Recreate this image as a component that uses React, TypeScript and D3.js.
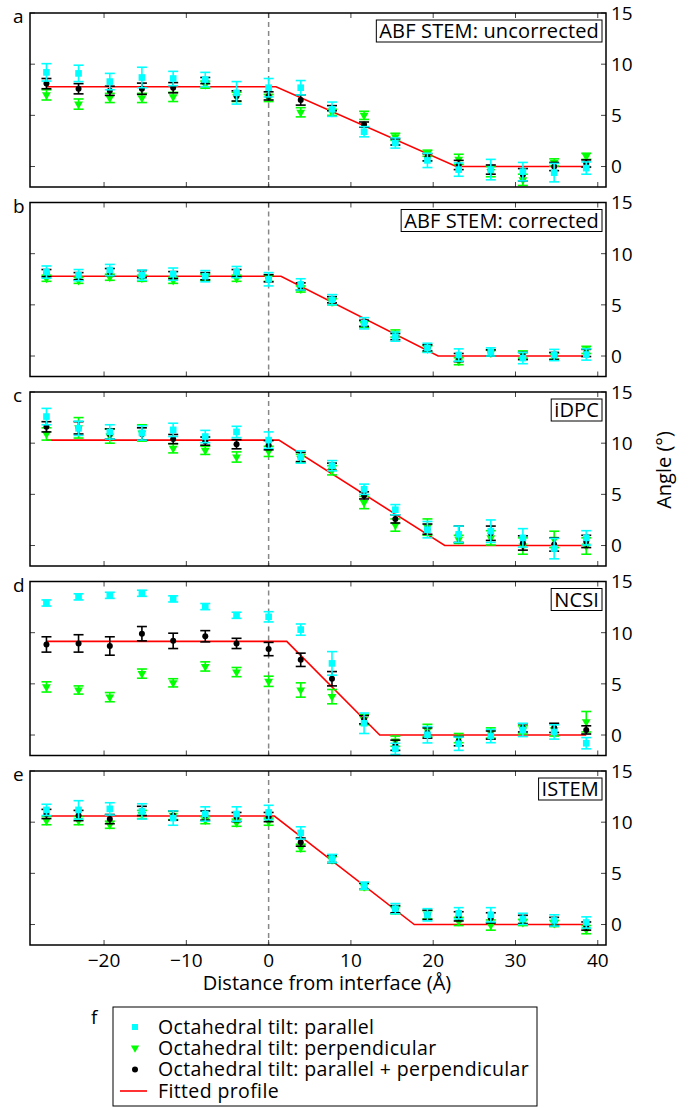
import React from "react";
import * as d3 from "d3";

const xPos = [-27, -23.1, -19.3, -15.4, -11.6, -7.7, -3.9, 0, 3.9, 7.7, 11.6, 15.4, 19.3, 23.1, 27, 30.9, 34.7, 38.6];
const xTicks = [-20, -10, 0, 10, 20, 30, 40];
const yTicks = [0, 5, 10, 15];

const panelLetters = ["a", "b", "c", "d", "e"];
const panelTitles = ["ABF STEM: uncorrected", "ABF STEM: corrected", "iDPC", "NCSI", "ISTEM"];

// panel a
const aPar = [9.2, 9.1, 8.3, 8.7, 8.6, 8.5, 7.2, 7.7, 7.7, 5.6, 3.4, 2.3, 0.6, -0.3, -0.3, -0.5, -0.6, -0.15];
const aParErr = [0.85, 0.8, 0.8, 1.0, 0.7, 0.7, 1.1, 0.9, 0.7, 0.7, 0.5, 0.5, 0.7, 0.65, 1.0, 0.9, 0.9, 0.6];
const aPerp = [7.0, 6.1, 6.7, 6.7, 6.8, 8.0, 6.8, 6.7, 5.3, 5.3, 5.0, 2.9, 1.3, 0.7, -0.5, -1.3, 0.4, 1.0];
const aPerpErr = [0.5, 0.5, 0.45, 0.45, 0.45, 0.35, 0.45, 0.35, 0.45, 0.3, 0.4, 0.35, 0.3, 0.5, 0.5, 0.55, 0.35, 0.3];
const aBoth = [8.1, 7.6, 7.4, 7.6, 7.7, 8.4, 6.9, 6.9, 6.5, 5.7, 4.1, 2.4, 0.9, 0.15, -0.3, -0.8, 0, 0.3];
const aBothErr = [0.5, 0.5, 0.45, 0.55, 0.5, 0.3, 0.5, 0.4, 0.5, 0.25, 0.25, 0.3, 0.35, 0.45, 0.45, 0.6, 0.4, 0.35];
const aFitX = [-27, 0.9, 22.8, 38.6];
const aFitY = [7.8, 7.8, 0, 0];

// panel b
const bPar = [8.2, 7.9, 8.4, 7.9, 8.0, 7.8, 8.2, 7.5, 7.0, 5.5, 3.2, 1.9, 0.8, 0.1, 0.4, -0.2, 0.1, 0.15];
const bParErr = [0.6, 0.55, 0.55, 0.5, 0.6, 0.55, 0.55, 0.65, 0.55, 0.5, 0.55, 0.45, 0.45, 0.6, 0.4, 0.55, 0.55, 0.55];
const bPerp = [7.6, 7.4, 7.7, 7.6, 7.4, 7.7, 7.6, 7.6, 6.55, 5.3, 3.1, 2.2, 0.7, -0.5, 0.3, 0.15, 0, 0.6];
const bPerpErr = [0.3, 0.3, 0.3, 0.3, 0.3, 0.3, 0.3, 0.3, 0.3, 0.3, 0.3, 0.35, 0.3, 0.35, 0.3, 0.35, 0.3, 0.35];
const bBoth = [8.1, 7.8, 8.2, 8.0, 7.9, 7.8, 8.1, 7.6, 6.8, 5.5, 3.2, 1.9, 0.8, -0.15, 0.3, 0, 0, 0.3];
const bBothErr = [0.35, 0.35, 0.35, 0.35, 0.35, 0.35, 0.35, 0.35, 0.35, 0.3, 0.3, 0.3, 0.3, 0.4, 0.3, 0.35, 0.35, 0.35];
const bFitX = [-27, 1.5, 20.6, 38.6];
const bFitY = [7.8, 7.8, 0, 0];

// panel c
const cPar = [12.6, 11.45, 11.1, 11.0, 11.3, 10.65, 11.1, 10.3, 8.65, 7.8, 5.5, 3.5, 1.55, 1.1, 1.4, 0.75, -0.3, 0.75];
const cParErr = [0.8, 0.7, 0.7, 0.7, 0.65, 0.6, 0.55, 0.8, 0.6, 0.5, 0.5, 0.5, 0.8, 0.8, 1.1, 0.9, 1.0, 0.7];
const cPerp = [10.9, 11.5, 10.7, 11.0, 9.5, 9.3, 8.65, 9.2, 8.5, 7.35, 4.2, 2.0, 1.8, 0.6, 0.75, -0.05, 0.6, -0.05];
const cPerpErr = [0.6, 1.0, 0.7, 0.8, 0.45, 0.4, 0.5, 0.5, 0.4, 0.45, 0.6, 0.6, 0.8, 0.4, 0.7, 0.8, 0.8, 0.8];
const cBoth = [11.6, 11.5, 10.9, 10.9, 10.4, 10.2, 9.9, 9.8, 8.65, 7.7, 4.9, 2.6, 1.6, 1.1, 1.2, 0.25, 0.1, 0.4];
const cBothErr = [0.5, 0.6, 0.5, 0.6, 0.45, 0.4, 0.45, 0.45, 0.45, 0.35, 0.35, 0.4, 0.5, 0.8, 0.7, 0.7, 0.65, 0.6];
const cFitX = [-27, 1.25, 21.4, 38.6];
const cFitY = [10.3, 10.3, 0, 0];

// panel d
const dPar = [12.9, 13.5, 13.65, 13.85, 13.3, 12.55, 11.7, 11.55, 10.3, 7.0, 1.15, -1.35, 0.03, -0.85, -0.1, 0.5, 0.3, -0.8];
const dParErr = [0.3, 0.3, 0.3, 0.3, 0.3, 0.3, 0.3, 0.5, 0.55, 1.15, 1.0, 0.55, 0.8, 0.65, 0.65, 0.65, 0.7, 0.55];
const dPerp = [4.7, 4.4, 3.7, 6.0, 5.1, 6.7, 6.15, 5.25, 4.4, 3.75, 1.5, -0.6, 0.45, -0.3, 0.2, 0.5, 0.5, 1.3];
const dPerpErr = [0.5, 0.4, 0.45, 0.45, 0.4, 0.45, 0.45, 0.5, 0.7, 0.7, 0.5, 0.5, 0.6, 0.45, 0.5, 0.4, 0.6, 1.0];
const dBoth = [8.85, 8.95, 8.7, 9.9, 9.2, 9.65, 8.95, 8.4, 7.35, 5.5, 1.5, -1.0, 0.2, -0.6, 0, 0.7, 0.7, 0.5];
const dBothErr = [0.75, 0.85, 0.9, 0.7, 0.75, 0.55, 0.5, 0.65, 0.65, 0.7, 0.4, 0.5, 0.5, 0.45, 0.4, 0.4, 0.45, 0.4];
const dFitX = [-27, 2.2, 13.5, 38.6];
const dFitY = [9.15, 9.15, 0, 0];

// panel e
const ePar = [11.2, 11.2, 11.3, 11.05, 10.4, 10.8, 10.8, 10.95, 8.95, 6.45, 3.8, 1.55, 0.95, 1.1, 0.95, 0.55, 0.4, 0.2];
const eParErr = [0.55, 0.9, 0.6, 0.75, 0.7, 0.7, 0.7, 0.7, 0.6, 0.4, 0.35, 0.5, 0.6, 0.55, 0.7, 0.55, 0.55, 0.55];
const ePerp = [10.15, 10.15, 9.75, 10.75, 10.65, 10.2, 9.95, 10.05, 7.5, 6.35, 3.7, 1.4, 0.95, 0.3, -0.05, 0.2, 0.1, -0.5];
const ePerpErr = [0.4, 0.4, 0.35, 0.4, 0.4, 0.35, 0.35, 0.35, 0.35, 0.3, 0.3, 0.35, 0.4, 0.4, 0.5, 0.3, 0.3, 0.4];
const eBoth = [10.8, 10.65, 10.3, 11.1, 10.65, 10.65, 10.5, 10.5, 8.05, 6.4, 3.75, 1.5, 0.95, 0.8, 0.65, 0.5, 0.3, -0.15];
const eBothErr = [0.45, 0.5, 0.45, 0.45, 0.45, 0.45, 0.45, 0.45, 0.4, 0.35, 0.3, 0.35, 0.45, 0.45, 0.5, 0.4, 0.4, 0.4];
const eFitX = [-27, 0.7, 17.7, 38.6];
const eFitY = [10.6, 10.6, 0, 0];

const legendLabels = [
  "Octahedral tilt: parallel",
  "Octahedral tilt: perpendicular",
  "Octahedral tilt: parallel + perpendicular",
  "Fitted profile",
];

const panels = [
  { par: aPar, parErr: aParErr, perp: aPerp, perpErr: aPerpErr, both: aBoth, bothErr: aBothErr, fitX: aFitX, fitY: aFitY },
  { par: bPar, parErr: bParErr, perp: bPerp, perpErr: bPerpErr, both: bBoth, bothErr: bBothErr, fitX: bFitX, fitY: bFitY },
  { par: cPar, parErr: cParErr, perp: cPerp, perpErr: cPerpErr, both: cBoth, bothErr: cBothErr, fitX: cFitX, fitY: cFitY },
  { par: dPar, parErr: dParErr, perp: dPerp, perpErr: dPerpErr, both: dBoth, bothErr: dBothErr, fitX: dFitX, fitY: dFitY },
  { par: ePar, parErr: eParErr, perp: ePerp, perpErr: ePerpErr, both: eBoth, bothErr: eBothErr, fitX: eFitX, fitY: eFitY },
];

const CYAN = "#00ffff";
const GREEN = "#00ff00";
const BLACK = "#000000";
const RED = "#ff0000";
const FONT = "'Open Sans', 'DejaVu Sans', sans-serif";

const W = 694;
const H = 1108;
const left = 30;
const right = 606;
const panelTops = [13, 202.5, 392, 581.5, 771];
const panelH = 174;

const x = d3.scaleLinear().domain([-29, 41]).range([left, right]);

function ErrorBars({ xs, ys, es, y, color, cap }: any) {
  return (
    <g stroke={color} strokeWidth={1.6} fill="none">
      {xs.map((xv: number, i: number) => {
        const cx = x(xv);
        const y1 = y(ys[i] - es[i]);
        const y2 = y(ys[i] + es[i]);
        return (
          <g key={i}>
            <line x1={cx} x2={cx} y1={y1} y2={y2} />
            <line x1={cx - cap} x2={cx + cap} y1={y1} y2={y1} />
            <line x1={cx - cap} x2={cx + cap} y1={y2} y2={y2} />
          </g>
        );
      })}
    </g>
  );
}

function TitleBox({ text, rightX, topY }: any) {
  const ref = React.useRef<SVGTextElement>(null);
  const [w, setW] = React.useState(0);
  React.useLayoutEffect(() => {
    if (ref.current) setW(ref.current.getBBox().width);
  }, [text]);
  const pad = 3;
  return (
    <g>
      <rect x={rightX - w - 2 * pad} y={topY} width={w + 2 * pad} height={22} fill="#fff" stroke="#000" strokeWidth={1} />
      <text ref={ref} x={rightX - pad} y={topY + 18} textAnchor="end" fontSize={20} letterSpacing={0.15} fontFamily={FONT}>
        {text}
      </text>
    </g>
  );
}

function Panel({ idx }: { idx: number }) {
  const p = panels[idx];
  const top = panelTops[idx];
  const y = d3.scaleLinear().domain([-2, 15]).range([top + panelH, top]);
  const line = d3
    .line<number>()
    .x((d, i) => x(p.fitX[i]))
    .y((d) => y(d));
  const sq = d3.symbol().type(d3.symbolSquare).size(44)();
  const tri = d3.symbol().type(d3.symbolTriangle).size(34)();
  const title = panelTitles[idx];
  const bottom = top + panelH;
  return (
    <g>
      <text x={13} y={top + 10} fontSize={19} fontFamily={FONT}>
        {panelLetters[idx]}
      </text>
      <line x1={x(0)} x2={x(0)} y1={top} y2={bottom} stroke="#888" strokeWidth={1.5} strokeDasharray="5,4" />
      <g stroke="#444" strokeWidth={1}>
        {xTicks.map((t) => (
          <g key={t}>
            <line x1={x(t)} x2={x(t)} y1={top} y2={top + 5} />
            <line x1={x(t)} x2={x(t)} y1={bottom} y2={bottom - 5} />
          </g>
        ))}
        {yTicks.map((t) => (
          <g key={t}>
            <line x1={left} x2={left + 5} y1={y(t)} y2={y(t)} />
            <line x1={right} x2={right - 5} y1={y(t)} y2={y(t)} />
          </g>
        ))}
      </g>
      {yTicks.map((t) => (
        <text key={t} x={right + 5} y={y(t)} dy="0.36em" fontSize={19} fontFamily={FONT}>
          {t}
        </text>
      ))}
      <path d={line(p.fitY) || ""} stroke={RED} strokeWidth={1.6} fill="none" />
      <ErrorBars xs={xPos} ys={p.perp} es={p.perpErr} y={y} color={GREEN} cap={5} />
      {xPos.map((xv, i) => (
        <path key={i} d={tri} transform={`translate(${x(xv)},${y(p.perp[i])}) rotate(180)`} fill={GREEN} />
      ))}
      <ErrorBars xs={xPos} ys={p.both} es={p.bothErr} y={y} color={BLACK} cap={5} />
      {xPos.map((xv, i) => (
        <circle key={i} cx={x(xv)} cy={y(p.both[i])} r={3} fill={BLACK} />
      ))}
      <ErrorBars xs={xPos} ys={p.par} es={p.parErr} y={y} color={CYAN} cap={5} />
      {xPos.map((xv, i) => (
        <path key={i} d={sq} transform={`translate(${x(xv)},${y(p.par[i])})`} fill={CYAN} />
      ))}
      <TitleBox text={title} rightX={602} topY={top + 7} />
      <rect x={left} y={top} width={right - left} height={panelH} fill="none" stroke="#000" strokeWidth={1.5} />
    </g>
  );
}

export default function App() {
  const lastTop = panelTops[4];
  const lastBottom = lastTop + panelH;
  const legX = 113;
  const legY = 1007;
  const rowY = [1027, 1048, 1069.5, 1091];
  return (
    <div style={{ position: "absolute", left: 0, top: 0 }}>
      <svg width={W} height={H} style={{ display: "block", background: "#fff" }}>
        {panels.map((_, i) => (
          <Panel key={i} idx={i} />
        ))}
        {xTicks.map((t) => (
          <text key={t} x={x(t)} y={lastBottom + 22} textAnchor="middle" fontSize={19} fontFamily={FONT}>
            {t < 0 ? `\u2212${Math.abs(t)}` : t}
          </text>
        ))}
        <text x={327} y={990} textAnchor="middle" fontSize={20} fontFamily={FONT}>
          Distance from interface (Å)
        </text>
        <text transform={`translate(671,470) rotate(-90)`} textAnchor="middle" fontSize={20} fontFamily={FONT}>
          Angle (°)
        </text>
        <text x={91} y={1024} fontSize={19} fontFamily={FONT}>
          f
        </text>
        <rect x={legX} y={legY} width={424} height={99} fill="#fff" stroke="#000" strokeWidth={1} />
        <path d={d3.symbol().type(d3.symbolSquare).size(36)() || ""} transform={`translate(135,${rowY[0]})`} fill={CYAN} />
        <path
          d={d3.symbol().type(d3.symbolTriangle).size(30)() || ""}
          transform={`translate(135,${rowY[1]}) rotate(180)`}
          fill={GREEN}
        />
        <circle cx={135} cy={rowY[2]} r={3} fill={BLACK} />
        <line x1={120} x2={147} y1={rowY[3]} y2={rowY[3]} stroke={RED} strokeWidth={1.6} />
        {legendLabels.map((l, i) => (
          <text key={l} x={158} y={rowY[i] + 6.5} fontSize={19.5} letterSpacing={0.37} fontFamily={FONT}>
            {l}
          </text>
        ))}
      </svg>
    </div>
  );
}
